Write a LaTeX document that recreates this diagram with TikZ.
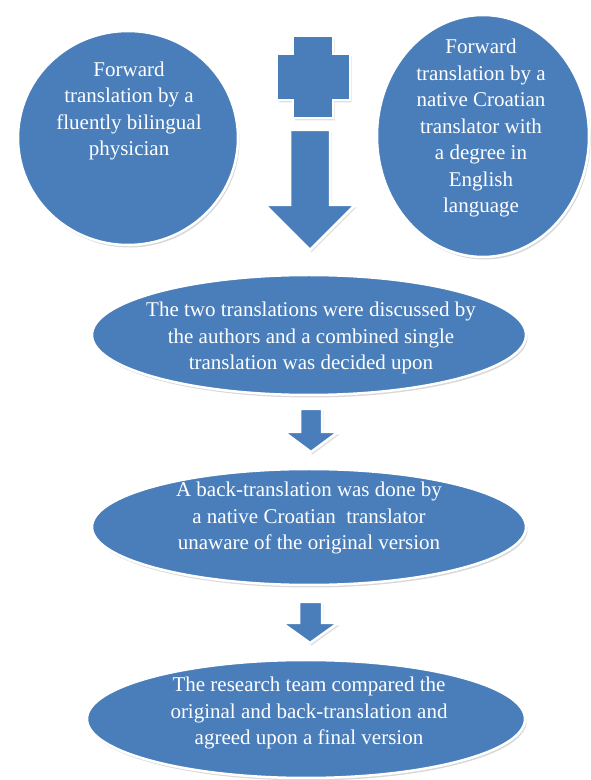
\documentclass[tikz,border=0pt]{standalone}
\usepackage{fontspec}
\setmainfont{Liberation Serif}
\usetikzlibrary{shapes.geometric,shadows}
\definecolor{blockblue}{HTML}{4A7EBB}
\tikzset{
  blob/.style={ellipse, fill=blockblue, draw=white, line width=2.5pt, inner sep=0pt,
    drop shadow={shadow xshift=1.5pt, shadow yshift=-2.5pt, opacity=0.25, fill=black!60}},
  txt/.style={text=white, align=center, inner sep=0pt,
    font=\fontsize{21}{26.5}\selectfont},
  blockshape/.style={fill=blockblue, draw=white, line width=2.5pt, line join=miter,
    drop shadow={shadow xshift=1.5pt, shadow yshift=-2.5pt, opacity=0.2, fill=black!60}}
}
\begin{document}
\begin{tikzpicture}[x=1pt,y=1pt]
\useasboundingbox (0,0) rectangle (591,780);
\fill[white] (0,0) rectangle (591,780);

% top circles
\node[blob, minimum width=220pt, minimum height=214pt] (c1) at (128,642) {};
\node[txt] (t1) at (129,669) {Forward\\translation by a\\fluently bilingual\\physician};
\node[blob, minimum width=212pt, minimum height=242pt] (c2) at (483,644) {};
\node[txt] (t2) at (481,652) {Forward\\translation by a\\native Croatian\\translator with\\a degree in\\English\\language};

% plus sign
\path[blockshape] (293,744) -- (333,744) -- (333,726) -- (350,726) -- (350,680) -- (333,680)
  -- (333,662) -- (293,662) -- (293,680) -- (277,680) -- (277,726) -- (293,726) -- cycle;

% big down arrow
\path[blockshape] (290,650) -- (330,650) -- (330,575) -- (355,575) -- (310,530) -- (265,575)
  -- (290,575) -- cycle;

% ellipse 1
\node[blob, minimum width=434pt, minimum height=120pt] (e1) at (309,445) {};
\node[txt] (t3) at (311,442) {The two translations were discussed by\\the authors and a combined single\\translation was decided upon};

% small arrow 1
\path[blockshape] (300,371) -- (322,371) -- (322,348) -- (338,348) -- (311,328) -- (284,348)
  -- (300,348) -- cycle;

% ellipse 2
\node[blob, minimum width=434pt, minimum height=116pt] (e2) at (309,253) {};
\node[txt] (t4) at (309,262) {A back-translation was done by\\a native Croatian\ \ translator\\unaware of the original version};

% small arrow 2
\path[blockshape] (299,178) -- (322,178) -- (322,157) -- (338,157) -- (310,137) -- (282,157)
  -- (299,157) -- cycle;

% ellipse 3
\node[blob, minimum width=438pt, minimum height=118pt] (e3) at (306,61) {};
\node[txt] (t5) at (309,67) {The research team compared the\\original and back-translation and\\agreed upon a final version};
\end{tikzpicture}
\end{document}
